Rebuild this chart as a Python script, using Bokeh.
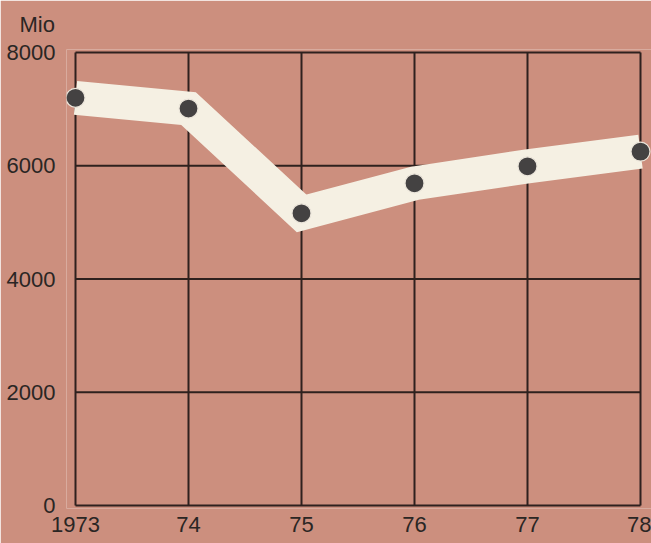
from bokeh.plotting import figure
from bokeh.models import Range1d, FixedTicker, Title
from bokeh.embed import file_html
from bokeh.resources import INLINE

# ---- data ----
years = [1973, 1974, 1975, 1976, 1977, 1978]
x_labels = ["1973", "74", "75", "76", "77", "78"]
values = [7200, 7010, 5160, 5690, 5990, 6250]
y_ticks = [0, 2000, 4000, 6000, 8000]
y_labels = ["0", "2000", "4000", "6000", "8000"]
unit_label = "Mio"

BG = "#cc8f7e"
GRID = "#2e211e"
TEXT = "#2a2624"
BAND = "#f5f0e3"
DOT = "#444242"
FONT = "Liberation Sans"

px_per_year = 113.0
px_per_unit = 453.0 / 8000.0

p = figure(
    width=651, height=543,
    x_range=Range1d(years[0] - 9 / px_per_year, years[-1] + 11 / px_per_year),
    y_range=Range1d(y_ticks[0] - 3 / px_per_unit, y_ticks[-1] + 3 / px_per_unit),
    output_backend="svg", toolbar_location=None, title=None,
    min_border_left=66, min_border_right=0, min_border_top=49, min_border_bottom=35,
)
p.background_fill_color = BG
p.border_fill_color = BG
p.outline_line_color = None
p.xgrid.grid_line_color = None
p.ygrid.grid_line_color = None

# grid drawn from the tick arrays
p.segment(x0=[years[0]] * len(y_ticks), x1=[years[-1]] * len(y_ticks),
          y0=y_ticks, y1=y_ticks, line_color=GRID, line_width=2)
p.segment(x0=years, x1=years, y0=[y_ticks[0]] * len(years),
          y1=[y_ticks[-1]] * len(years), line_color=GRID, line_width=2)

# white band and dots
p.line(years, values, line_width=34, line_color=BAND, line_join="miter", line_cap="butt")
p.scatter(years, values, size=19, fill_color=DOT, line_color="#ebe5da", line_width=1.2)

for ax in (p.xaxis[0], p.yaxis[0]):
    ax.axis_line_color = None
    ax.major_tick_line_color = None
    ax.minor_tick_line_color = None
    ax.major_label_text_font = FONT
    ax.major_label_text_font_size = "22px"
    ax.major_label_text_color = TEXT

p.xaxis.ticker = FixedTicker(ticks=years)
p.xaxis.major_label_overrides = {y: l for y, l in zip(years, x_labels)}
p.xaxis.major_label_standoff = 2
p.yaxis.ticker = FixedTicker(ticks=y_ticks)
p.yaxis.major_label_overrides = {v: l for v, l in zip(y_ticks, y_labels)}
p.yaxis.major_label_standoff = 5

p.add_layout(Title(text=unit_label, align="left", offset=-47, standoff=21,
                   vertical_align="top",
                   text_font=FONT, text_font_size="22px", text_font_style="normal",
                   text_color=TEXT), "above")

open("out.html", "w").write(file_html(p, INLINE))
